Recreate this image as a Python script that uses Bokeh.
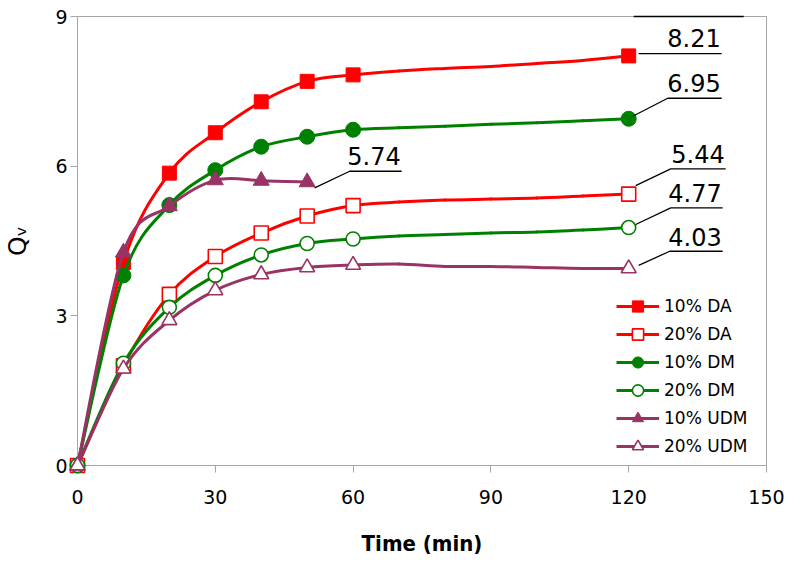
import numpy as np
from bokeh.plotting import figure
from bokeh.models import FixedTicker, Legend, LegendItem, Range1d
from bokeh.core.properties import value
from bokeh.embed import file_html
from bokeh.resources import INLINE

# ---------------- data ----------------
time = [0, 10, 20, 30, 40, 50, 60, 70, 80, 90, 100, 110, 120]
time_udm10 = [0, 10, 20, 30, 40, 50]
marker_time = [0, 10, 20, 30, 40, 50, 60, 120]

da10 = [0, 4.07, 5.86, 6.67, 7.29, 7.70, 7.83, 7.91, 7.96, 8.00, 8.06, 8.12, 8.21]
da20 = [0, 2.00, 3.43, 4.19, 4.66, 5.00, 5.21, 5.28, 5.32, 5.34, 5.36, 5.40, 5.44]
dm10 = [0, 3.81, 5.22, 5.92, 6.39, 6.59, 6.73, 6.77, 6.80, 6.84, 6.87, 6.91, 6.95]
dm20 = [0, 2.05, 3.17, 3.81, 4.22, 4.45, 4.54, 4.60, 4.63, 4.66, 4.68, 4.72, 4.77]
udm10 = [0, 4.27, 5.20, 5.72, 5.71, 5.68]
udm20 = [0, 1.94, 2.91, 3.51, 3.83, 3.97, 4.02, 4.04, 3.99, 3.99, 3.97, 3.95, 3.95]

series_names = ["10% DA", "20% DA", "10% DM", "20% DM", "10% UDM", "20% UDM"]
x_ticks = [0, 30, 60, 90, 120, 150]
y_ticks = [0, 3, 6, 9]

callout_text = ["8.21", "6.95", "5.44", "4.77", "4.03", "5.74"]
callout_series = ["10% DA", "10% DM", "20% DA", "20% DM", "20% UDM", "10% UDM"]
callout_time = [120, 120, 120, 120, 120, 50]

# ---------------- styles ----------------
RED, GREEN, PLUM = "#FF0000", "#008000", "#993366"
styles = {
    "10% DA": dict(color=RED, marker="square", filled=True, size=14),
    "20% DA": dict(color=RED, marker="square", filled=False, size=14),
    "10% DM": dict(color=GREEN, marker="circle", filled=True, size=15),
    "20% DM": dict(color=GREEN, marker="circle", filled=False, size=14),
    "10% UDM": dict(color=PLUM, marker="triangle", filled=True, size=16),
    "20% UDM": dict(color=PLUM, marker="triangle", filled=False, size=15),
}
data = {
    "10% DA": (time, da10), "20% DA": (time, da20),
    "10% DM": (time, dm10), "20% DM": (time, dm20),
    "10% UDM": (time_udm10, udm10), "20% UDM": (time, udm20),
}

# callout geometry in screen pixels relative to the marker (dy positive = down)
TXT_SHIFT = -10
callout_layout = [
    dict(start=(10, -2.3), knee=(40, -2.3), end=(93, -2.3), base=-7.5),
    dict(start=(5, -3), knee=(39, -20.5), end=(93, -20.5), base=-25.5),
    dict(start=(7, -8.5), knee=(42, -25.2), end=(97, -25.2), base=-30.5),
    dict(start=(7, -3), knee=(42, -19.7), end=(94, -19.7), base=-24.5),
    dict(start=(10, -3), knee=(41, -17.2), end=(94, -17.2), base=-21.7),
    dict(start=(7.5, 5.7), knee=(42.5, -10.9), end=(94.5, -10.9), base=-16.0),
]

FW, FH = 689, 449
X0, X1, Y0, Y1 = 0, 150, 0, 9

p = figure(frame_width=FW, frame_height=FH,
           x_range=Range1d(X0, X1), y_range=Range1d(Y0, Y1),
           output_backend="svg", toolbar_location=None,
           min_border_left=70, min_border_top=16, min_border_right=25,
           min_border_bottom=83, background_fill_color="white",
           border_fill_color="white")

sx = FW / (X1 - X0)
sy = FH / (Y1 - Y0)

AX = "#a6a6a6"
p.outline_line_color = AX
p.outline_line_width = 1
p.xgrid.visible = False
p.ygrid.visible = False

for ax, ticks in ((p.xaxis, x_ticks), (p.yaxis, y_ticks)):
    ax.ticker = FixedTicker(ticks=ticks)
    ax.minor_tick_line_color = None
    ax.major_tick_in = 0
    ax.major_tick_out = 7
    ax.major_tick_line_color = AX
    ax.axis_line_color = AX
    ax.major_label_text_font = "DejaVu Sans"
    ax.major_label_text_font_size = "19px"
    ax.major_label_text_color = "black"

p.xaxis.major_label_standoff = 17
p.yaxis.major_label_standoff = 3
p.xaxis.axis_label = "Time (min)"
p.xaxis.axis_label_text_font = "DejaVu Sans Condensed"
p.xaxis.axis_label_text_font_style = "bold"
p.xaxis.axis_label_text_font_size = "22px"
p.xaxis.axis_label_text_color = "black"
p.xaxis.axis_label_standoff = 24
p.yaxis.axis_label = "Q\u1d65"
p.yaxis.axis_label_text_font = "DejaVu Sans"
p.yaxis.axis_label_text_font_style = "normal"
p.yaxis.axis_label_text_font_size = "25px"
p.yaxis.axis_label_text_color = "black"
p.yaxis.axis_label_standoff = 20


def smooth_segments(xs, ys):
    pts = np.column_stack([np.asarray(xs, float), np.asarray(ys, float)])
    n = len(pts)
    out = {k: [] for k in ("x0", "y0", "x1", "y1", "cx0", "cy0", "cx1", "cy1")}
    for i in range(n - 1):
        pm = pts[i - 1] if i > 0 else pts[i]
        p0, p1 = pts[i], pts[i + 1]
        p2 = pts[i + 2] if i + 2 < n else pts[i + 1]
        c0 = p0 + (p1 - pm) / 6.0
        c1 = p1 - (p2 - p0) / 6.0
        out["x0"].append(p0[0]); out["y0"].append(p0[1])
        out["x1"].append(p1[0]); out["y1"].append(p1[1])
        out["cx0"].append(c0[0]); out["cy0"].append(c0[1])
        out["cx1"].append(c1[0]); out["cy1"].append(c1[1])
    return out


items = []
for name in series_names:
    st = styles[name]
    xs, ys = data[name]
    seg = smooth_segments(xs, ys)
    p.bezier(line_color=st["color"], line_width=3, line_cap="round",
             level="overlay", **seg)
    mx = [x for x in xs if x in marker_time]
    my = [y for x, y in zip(xs, ys) if x in marker_time]
    sr = p.scatter(mx, my, marker=st["marker"], size=st["size"],
                   fill_color=st["color"] if st["filled"] else "white",
                   line_color=st["color"], line_width=1.6 if not st["filled"] else 1,
                   level="overlay")
    dummy = p.line([X0], [float("nan")], line_color=st["color"], line_width=3)
    items.append(LegendItem(label=name, renderers=[dummy, sr]))

legend = Legend(items=items, location=(539, 5), glyph_width=43, glyph_height=28,
                label_height=20, spacing=0, padding=0, margin=0, label_standoff=5,
                border_line_alpha=0, background_fill_alpha=0,
                label_text_font="DejaVu Sans", label_text_font_size="17px",
                label_text_color="black")
p.add_layout(legend)

# callouts
lxs, lys, tx, ty, txo, tyo = [], [], [], [], [], []
for txt, sname, t, lay in zip(callout_text, callout_series, callout_time, callout_layout):
    xs, ys = data[sname]
    v = ys[xs.index(t)]
    pts = [lay["start"], lay["knee"], lay["end"]]
    lxs.append([t + dx / sx for dx, dy in pts])
    lys.append([v - dy / sy for dx, dy in pts])
    tx.append(t); ty.append(v)
    txo.append(lay["end"][0] - 1); tyo.append(lay["base"] + TXT_SHIFT)
p.multi_line(lxs, lys, line_color="black", line_width=1.3, level="overlay")
p.text(x=tx, y=ty, text=callout_text, x_offset=txo, y_offset=tyo,
       text_align="right", text_baseline="alphabetic",
       text_font=value("DejaVu Sans"), text_font_size="24px", text_color="black",
       level="overlay")

# leader line at the top edge of the frame
p.segment(x0=[120 + 5 / sx], y0=[Y1], x1=[120 + 115 / sx], y1=[Y1],
          line_color="black", line_width=1.5, level="overlay")

open("out.html", "w").write(file_html(p, INLINE))
